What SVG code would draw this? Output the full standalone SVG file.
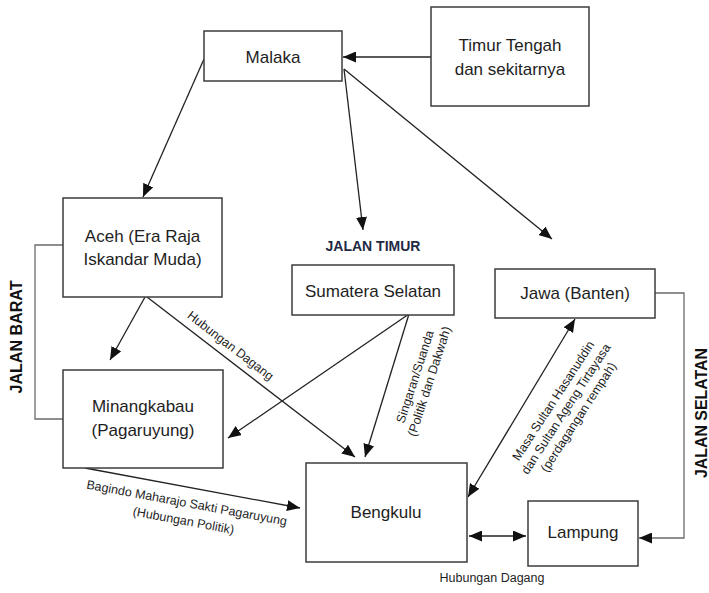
<svg xmlns="http://www.w3.org/2000/svg" width="709" height="593" viewBox="0 0 709 593">
<style>
.box{fill:#fff;stroke:#3c3c3c;stroke-width:1.5}
.t{font-family:"Liberation Sans",Arial,sans-serif;font-size:17px;fill:#1e1e1e;text-anchor:middle}
.s{font-family:"Liberation Sans",Arial,sans-serif;font-size:12.5px;fill:#1e1e1e;text-anchor:middle}
.b{font-family:"Liberation Sans",Arial,sans-serif;font-weight:bold;fill:#111;text-anchor:middle}
.c{fill:none;stroke:#222;stroke-width:1.3}
.g{fill:none;stroke:#6b6b6b;stroke-width:1.3}
</style>
<defs>
<marker id="ah" markerUnits="userSpaceOnUse" markerWidth="13" markerHeight="11" refX="13" refY="5.5" orient="auto-start-reverse" viewBox="0 0 13 11">
<path d="M0,0 L13,5.5 L0,11 z" fill="#111"/>
</marker>
</defs>
<rect width="709" height="593" fill="#fff"/>
<g id="connectors">
<line class="c" x1="431" y1="57" x2="343" y2="57" marker-end="url(#ah)"/>
<line class="c" x1="204" y1="59" x2="143" y2="197" marker-end="url(#ah)"/>
<line class="c" x1="344" y1="69" x2="363" y2="230" marker-end="url(#ah)"/>
<line class="c" x1="344" y1="69" x2="552" y2="239" marker-end="url(#ah)"/>
<line class="c" x1="145" y1="297" x2="110" y2="360" marker-end="url(#ah)"/>
<line class="c" x1="147" y1="297" x2="355" y2="457" marker-end="url(#ah)"/>
<line class="c" x1="409" y1="314" x2="228" y2="438" marker-end="url(#ah)"/>
<line class="c" x1="409" y1="314" x2="365" y2="457" marker-end="url(#ah)"/>
<line class="c" x1="85" y1="468" x2="300" y2="508" marker-end="url(#ah)"/>
<line class="c" x1="468" y1="497" x2="575" y2="319" marker-start="url(#ah)" marker-end="url(#ah)"/>
<line class="c" x1="469" y1="536" x2="526" y2="536" marker-start="url(#ah)" marker-end="url(#ah)"/>
<polyline class="g" points="63,245 35,245 35,419 63,419"/>
<polyline class="g" points="655,293 684,293 684,538 639,538"/>
<line x1="652" y1="538" x2="639" y2="538" stroke="none" marker-end="url(#ah)"/>
<text class="s" transform="translate(228,349) rotate(37.6)">Hubungan Dagang</text>
<text class="s" transform="translate(419,378) rotate(-72)"><tspan x="0" y="0">Singaran/Suanda</tspan><tspan x="0" y="15">(Politik dan Dakwah)</tspan></text>
<text class="s" transform="translate(566,409) rotate(-57)"><tspan x="0" y="-11">Masa Sultan Hasanuddin</tspan><tspan x="0" y="4">dan Sultan Ageng Tirtayasa</tspan><tspan x="0" y="19">(perdagangan rempah)</tspan></text>
<text class="s" transform="translate(186,507) rotate(10.5)"><tspan x="0" y="0">Bagindo Maharajo Sakti Pagaruyung</tspan><tspan x="0" y="18">(Hubungan Politik)</tspan></text>
<text class="s" x="492" y="582">Hubungan Dagang</text>
<text class="b" font-size="16" transform="translate(22,337) rotate(-90)" textLength="113" lengthAdjust="spacingAndGlyphs">JALAN BARAT</text>
<text class="b" font-size="16" transform="translate(707,413) rotate(-90)" textLength="130" lengthAdjust="spacingAndGlyphs">JALAN SELATAN</text>
<text class="b" font-size="14" x="373" y="251" style="fill:#1f2a44">JALAN TIMUR</text>
</g>
<g id="malaka"><rect class="box" x="204" y="31" width="138" height="50"/><text class="t" x="273" y="63">Malaka</text></g>
<g id="timur-tengah"><rect class="box" x="431" y="7" width="158" height="99"/><text class="t" x="510" y="51">Timur Tengah</text><text class="t" x="510" y="75">dan sekitarnya</text></g>
<g id="aceh"><rect class="box" x="63" y="198" width="159" height="99"/><text class="t" x="142.5" y="242">Aceh (Era Raja</text><text class="t" x="142.5" y="265">Iskandar Muda)</text></g>
<g id="sumatera-selatan"><rect class="box" x="292" y="265" width="162" height="50"/><text class="t" x="373" y="297">Sumatera Selatan</text></g>
<g id="jawa"><rect class="box" x="495" y="269" width="160" height="49"/><text class="t" x="575" y="299">Jawa (Banten)</text></g>
<g id="minangkabau"><rect class="box" x="63" y="370" width="160" height="98"/><text class="t" x="143" y="412">Minangkabau</text><text class="t" x="143" y="436">(Pagaruyung)</text></g>
<g id="bengkulu"><rect class="box" x="306" y="463" width="161" height="99"/><text class="t" x="386" y="518">Bengkulu</text></g>
<g id="lampung"><rect class="box" x="528" y="501" width="110" height="65"/><text class="t" x="583" y="538">Lampung</text></g>
</svg>
